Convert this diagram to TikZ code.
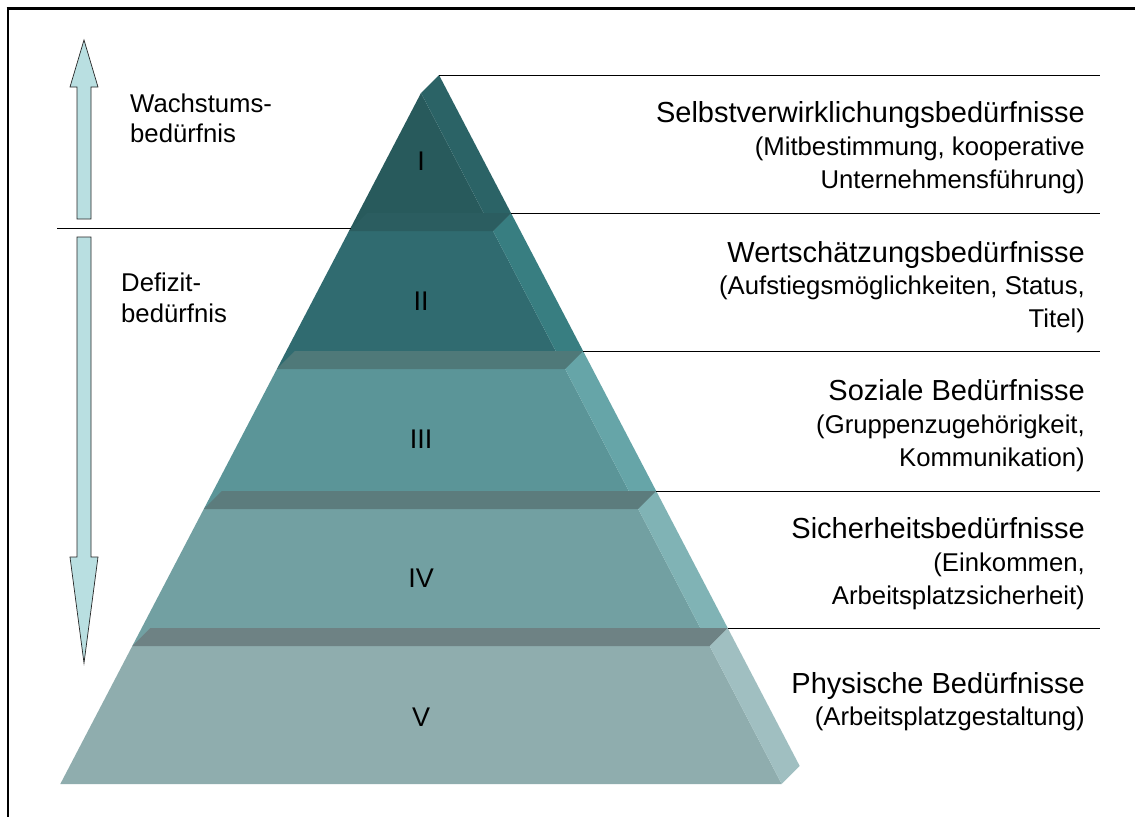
\documentclass[tikz,border=0pt]{standalone}
\usepackage{fontspec}
\setmainfont{Liberation Sans}
\definecolor{fI}{HTML}{285A5C}
\definecolor{sI}{HTML}{2B6366}
\definecolor{fII}{HTML}{306B70}
\definecolor{sII}{HTML}{387E81}
\definecolor{tII}{HTML}{2B5D60}
\definecolor{fIII}{HTML}{5B9598}
\definecolor{sIII}{HTML}{66A5A8}
\definecolor{tIII}{HTML}{4F7979}
\definecolor{fIV}{HTML}{72A0A2}
\definecolor{sIV}{HTML}{80B3B5}
\definecolor{tIV}{HTML}{5C7C7D}
\definecolor{fV}{HTML}{8FADAE}
\definecolor{sV}{HTML}{A0BFC1}
\definecolor{tV}{HTML}{6E8284}
\definecolor{arrfill}{HTML}{B9DFE1}
\begin{document}
\begin{tikzpicture}[x=1pt,y=-1pt,
  sep/.style={black,line width=1pt},
  arrowshape/.style={fill=arrfill,draw=black!85,line width=0.7pt,line join=miter},
  title/.style={anchor=base east,inner sep=0pt,font=\fontsize{29}{33}\selectfont},
  sub/.style={anchor=base east,inner sep=0pt,font=\fontsize{25.7}{31}\selectfont},
  lefttext/.style={anchor=base west,inner sep=0pt,font=\fontsize{25.7}{31}\selectfont},
  num/.style={anchor=base,inner sep=0pt,font=\fontsize{27}{30}\selectfont}]
\useasboundingbox (0,0) rectangle (1135,817);
\fill[white] (0,0) rectangle (1135,817);
% frame
\draw[line width=3pt] (6.5,8) -- (1135,8);
\draw[line width=2pt] (8,8) -- (8,817);
% pyramid coordinates
\coordinate (apex) at (421,93);
\coordinate (apexb) at (439,75);
\coordinate (L1) at (349,231);   \coordinate (R1) at (493,231);
\coordinate (BL1) at (367,213);  \coordinate (BR1) at (511,213);
\coordinate (L2) at (276.9,369); \coordinate (R2) at (565.1,369);
\coordinate (BL2) at (294.9,351);\coordinate (BR2) at (583.1,351);
\coordinate (L3) at (203.8,509); \coordinate (R3) at (638.2,509);
\coordinate (BL3) at (221.8,491);\coordinate (BR3) at (656.2,491);
\coordinate (L4) at (132.3,646); \coordinate (R4) at (709.7,646);
\coordinate (BL4) at (150.3,628);\coordinate (BR4) at (727.7,628);
\coordinate (L5) at (60.3,784);  \coordinate (R5) at (781.7,784);
\coordinate (BR5) at (799.7,766);
% faces
\fill[fI] (apex) -- (R1) -- (L1) -- cycle;
\fill[sI] (apex) -- (R1) -- (BR1) -- (apexb) -- cycle;
\fill[fII] (L1) -- (R1) -- (R2) -- (L2) -- cycle;
\fill[sII] (R1) -- (R2) -- (BR2) -- (BR1) -- cycle;
\fill[fIII] (L2) -- (R2) -- (R3) -- (L3) -- cycle;
\fill[sIII] (R2) -- (R3) -- (BR3) -- (BR2) -- cycle;
\fill[fIV] (L3) -- (R3) -- (R4) -- (L4) -- cycle;
\fill[sIV] (R3) -- (R4) -- (BR4) -- (BR3) -- cycle;
\fill[fV] (L4) -- (R4) -- (R5) -- (L5) -- cycle;
\fill[sV] (R4) -- (R5) -- (BR5) -- (BR4) -- cycle;
% top strips
\fill[tII] (L1) -- (R1) -- (BR1) -- (BL1) -- cycle;
\fill[tIII] (L2) -- (R2) -- (BR2) -- (BL2) -- cycle;
\fill[tIV] (L3) -- (R3) -- (BR3) -- (BL3) -- cycle;
\fill[tV] (L4) -- (R4) -- (BR4) -- (BL4) -- cycle;
% separator lines
\coordinate (E0) at (1100,75);
\coordinate (E1) at (1100,213);
\coordinate (E2) at (1100,351);
\coordinate (E3) at (1100,491);
\coordinate (E4) at (1100,628);
\draw[sep] (apexb) -- (E0);
\draw[sep] (BR1) -- (E1);
\draw[sep] (BR2) -- (E2);
\draw[sep] (BR3) -- (E3);
\draw[sep] (BR4) -- (E4);
\coordinate (S0) at (57,228);
\coordinate (S1) at (350.5,228);
\draw[sep] (S0) -- (S1);
% arrows
\draw[arrowshape] (84,40) -- (98,87) -- (91,87) -- (91,219) -- (77,219) -- (77,87) -- (70,87) -- cycle;
\draw[arrowshape] (77,237) -- (91,237) -- (91,557) -- (98,557) -- (84,663) -- (70,557) -- (77,557) -- cycle;
% left texts
\node[lefttext] (w1) at (130,112) {Wachstums-};
\node[lefttext] (w2) at (130,142) {bedürfnis};
\node[lefttext] (d1) at (121,291) {Defizit-};
\node[lefttext] (d2) at (121,322) {bedürfnis};
% numerals
\node[num] (n1) at (421,170) {I};
\node[num] (n2) at (421,310) {II};
\node[num] (n3) at (421,448) {III};
\node[num] (n4) at (421,587) {IV};
\node[num] (n5) at (421,726) {V};
% right texts
\node[title] (a1) at (1085,122) {Selbstverwirklichungsbedürfnisse};
\node[sub] (a2) at (1085,155) {(Mitbestimmung, kooperative};
\node[sub] (a3) at (1085,188) {Unternehmensführung)};
\node[title] (b1) at (1085,262) {Wertschätzungsbedürfnisse};
\node[sub] (b2) at (1085,294) {(Aufstiegsmöglichkeiten, Status,};
\node[sub] (b3) at (1085,327) {Titel)};
\node[title] (c1) at (1085,400) {Soziale Bedürfnisse};
\node[sub] (c2) at (1085,433) {(Gruppenzugehörigkeit,};
\node[sub] (c3) at (1085,466) {Kommunikation)};
\node[title] (e1) at (1085,538) {Sicherheitsbedürfnisse};
\node[sub] (e2) at (1085,571) {(Einkommen,};
\node[sub] (e3) at (1085,604) {Arbeitsplatzsicherheit)};
\node[title] (f1) at (1085,693) {Physische Bedürfnisse};
\node[sub] (f2) at (1085,725) {(Arbeitsplatzgestaltung)};
\end{tikzpicture}
\end{document}
